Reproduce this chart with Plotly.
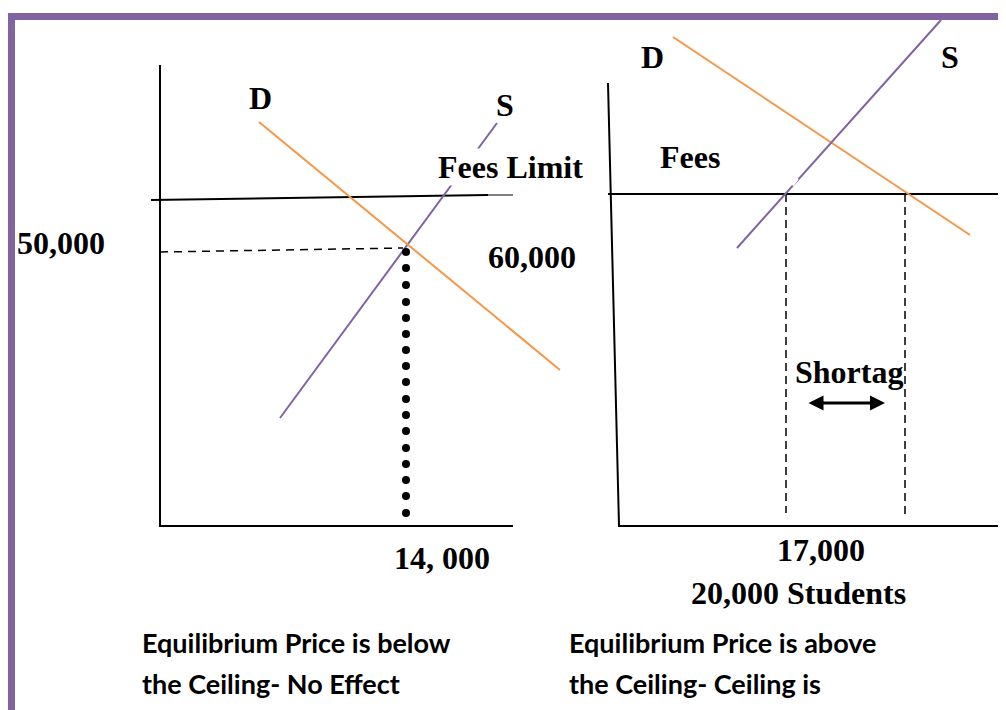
import plotly.graph_objects as go

# ---------------- data (diagram units, y grows downward) ----------------
# Left panel: equilibrium below the ceiling
left_axis_x = [160, 160, 513]
left_axis_y = [65, 526, 526]
left_demand_x = [259, 560]
left_demand_y = [122, 370]
left_supply_x = [280, 497]
left_supply_y = [418, 123]
left_ceiling_x = [151, 488]
left_ceiling_y = [200, 195]
left_ceiling_tail_x = [488, 513]
left_ceiling_tail_y = [195, 195]
left_price_guide_x = [160, 403]
left_price_guide_y = [252, 248]
left_qty_dots_y = [252, 268, 285, 302, 318, 334, 350, 366, 382, 399, 415, 431, 448, 464, 480, 496, 513]
left_qty_dots_x = [406] * len(left_qty_dots_y)

# Right panel: equilibrium above the ceiling
right_axis_x = [608, 619, 1010]
right_axis_y = [83, 526, 526]
right_demand_x = [673, 970]
right_demand_y = [37, 235]
right_supply_x = [737, 941]
right_supply_y = [248, 20]
right_supply_gap_x = [792, 797]
right_supply_gap_y = [185, 178]
right_ceiling_x = [608, 1010]
right_ceiling_y = [194, 194]
right_qs_x = [786, 786]
right_qs_y = [194, 513]
right_qd_x = [905, 905]
right_qd_y = [194, 518]
shortage_arrow_x = [807, 885]
shortage_arrow_y = [403, 403]

# Text labels
serif_labels = [
    ("D", 260, 98, "center"),
    ("S", 505, 105, "center"),
    ("50,000", 15, 243, "left"),
    ("60,000", 532, 257, "center"),
    ("14, 000", 442, 558, "center"),
    ("D", 652, 57, "center"),
    ("S", 950, 57, "center"),
    ("Fees", 690, 157, "center"),
    ("Shortag", 849, 372, "center"),
    ("17,000", 821, 550, "center"),
    ("20,000 Students", 798, 593, "center"),
]
caption_labels = [
    ("Equilibrium Price is below", 140, 642),
    ("the Ceiling- No Effect", 140, 683),
    ("Equilibrium Price is above", 567, 642),
    ("the Ceiling- Ceiling is", 567, 683),
]

ORANGE = "#F79646"
PURPLE = "#8064A2"
BLACK = "#000000"

fig = go.Figure()


def line(x, y, color, width, dash="solid"):
    fig.add_trace(go.Scatter(x=x, y=y, mode="lines", hoverinfo="skip",
                             line=dict(color=color, width=width, dash=dash)))


# left panel
line(left_axis_x, left_axis_y, BLACK, 2)
line(left_ceiling_x, left_ceiling_y, BLACK, 2)
line(left_ceiling_tail_x, left_ceiling_tail_y, BLACK, 1)
line(left_price_guide_x, left_price_guide_y, BLACK, 1.5, "8px,6px")
line(left_supply_x, left_supply_y, PURPLE, 2)
line(left_demand_x, left_demand_y, ORANGE, 2)
fig.add_trace(go.Scatter(x=left_qty_dots_x, y=left_qty_dots_y, mode="markers", hoverinfo="skip",
                         marker=dict(color=BLACK, size=8, line=dict(width=0))))

# right panel
line(right_axis_x, right_axis_y, BLACK, 2)
line(right_ceiling_x, right_ceiling_y, BLACK, 2)
line(right_qs_x, right_qs_y, BLACK, 1.5, "8px,5px")
line(right_qd_x, right_qd_y, BLACK, 1.5, "8px,5px")
line(right_demand_x, right_demand_y, ORANGE, 2)
line(right_supply_x, right_supply_y, PURPLE, 2)
line(right_supply_gap_x, right_supply_gap_y, "white", 4)

# shortage double arrow
fig.add_annotation(x=shortage_arrow_x[1], y=shortage_arrow_y[1],
                   ax=shortage_arrow_x[0], ay=shortage_arrow_y[0],
                   xref="x", yref="y", axref="x", ayref="y", text="",
                   showarrow=True, arrowhead=2, arrowside="end+start",
                   arrowsize=1, arrowwidth=3, arrowcolor=BLACK)

serif_font = dict(family="Liberation Serif, Times New Roman, serif", size=32, color=BLACK, weight="bold")
for txt, x, y, anchor in serif_labels:
    fig.add_annotation(x=x, y=y, xref="x", yref="y", text=txt, showarrow=False,
                       xanchor=anchor, yanchor="middle", font=serif_font)

# Fees Limit label sits on a white box that interrupts the supply curve
fig.add_annotation(x=510, y=167, xref="x", yref="y", text="Fees Limit", showarrow=False,
                   xanchor="center", yanchor="middle", font=serif_font, bgcolor="white",
                   borderpad=0)

cap_font = dict(family="Lato, Carlito, Calibri, sans-serif", size=27, color=BLACK, weight="bold")
for txt, x, y in caption_labels:
    fig.add_annotation(x=x, y=y, xref="x", yref="y", text=txt, showarrow=False,
                       xanchor="left", yanchor="middle", font=cap_font)

# purple page border
fig.add_shape(type="rect", xref="x", yref="y", x0=11.5, y0=16.5, x1=1030, y1=740,
              line=dict(color=PURPLE, width=7), fillcolor="rgba(0,0,0,0)", layer="above")

# the page body adds an 8px margin, so the visible window starts at 8
fig.update_layout(
    width=998, height=702,
    margin=dict(l=0, r=0, t=0, b=0),
    paper_bgcolor="white", plot_bgcolor="white",
    showlegend=False,
    xaxis=dict(range=[8, 1006], visible=False, fixedrange=True),
    yaxis=dict(range=[710, 8], visible=False, fixedrange=True),
)

fig.write_html("out.html")
